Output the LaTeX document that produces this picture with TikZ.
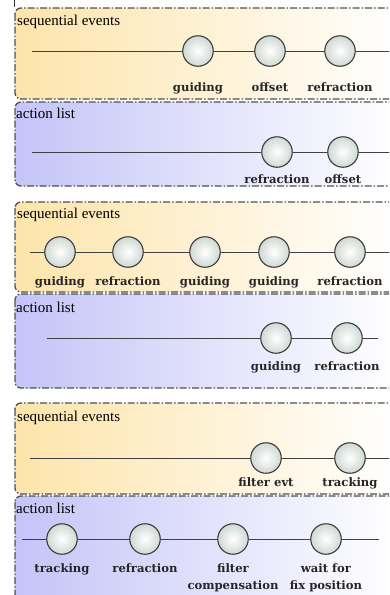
\documentclass[tikz,border=0pt]{standalone}
\usepackage{fontspec}
\setmainfont{Liberation Serif}
\newfontfamily\evfont{DejaVu Serif}
\definecolor{seqcol}{HTML}{FDE4AA}
\definecolor{actcol}{HTML}{C4C4F8}
\definecolor{edgecol}{HTML}{505050}
\definecolor{circedge}{HTML}{3C3C3C}
\definecolor{circfill}{HTML}{CFD9D3}
\tikzset{
  panel/.style={draw=edgecol, line width=1.3pt,
    dash pattern=on 7pt off 2pt on 1.5pt off 2pt, rounded corners=6pt},
  seqpanel/.style={panel, left color=seqcol, right color=white},
  actpanel/.style={panel, left color=actcol, right color=white},
  evt/.style={circle, draw=circedge, line width=1.1pt, minimum size=30.5pt,
    inner sep=0pt, inner color=white, outer color=circfill},
  evtlabel/.style={font=\evfont\bfseries\fontsize{11.6}{17.5}\selectfont,
    align=center, inner sep=0pt, anchor=base, text=black!85},
  paneltitle/.style={font=\fontsize{15}{18}\selectfont, anchor=base west,
    inner sep=0pt},
  track/.style={draw=black!75, line width=0.9pt},
}
\begin{document}
\begin{tikzpicture}[x=1pt,y=-1pt]
\clip (0,0) rectangle (389,595);
\fill[white] (0,0) rectangle (389,595);
\draw[black!80, line width=1pt] (14,0) -- (14,7);

% ---------- first pair ----------
\path[seqpanel] (15,8) rectangle (397,99);
\node[paneltitle] (t1) at (17,25) {sequential events};
\coordinate (s1a) at (32,51);
\coordinate (s1b) at (395,51);
\node[evt] (s1c1) at (198,51) {};
\node[evt] (s1c2) at (270,51) {};
\node[evt] (s1c3) at (340,51) {};
\draw[track] (s1a) -- (s1c1) -- (s1c2) -- (s1c3) -- (s1b);
\node[evtlabel] (s1l1) at (198,91.5) {guiding};
\node[evtlabel] (s1l2) at (270,91.5) {offset};
\node[evtlabel] (s1l3) at (340,91.5) {refraction};

\path[actpanel] (15,102) rectangle (397,186);
\node[paneltitle] (t2) at (16,118) {action list};
\coordinate (a1a) at (32,152);
\coordinate (a1b) at (395,152);
\node[evt] (a1c1) at (277,152) {};
\node[evt] (a1c2) at (343,152) {};
\draw[track] (a1a) -- (a1c1) -- (a1c2) -- (a1b);
\node[evtlabel] (a1l1) at (277,183.5) {refraction};
\node[evtlabel] (a1l2) at (343,183.5) {offset};

% ---------- second pair ----------
\path[seqpanel] (15,202) rectangle (397,292);
\node[paneltitle] (t3) at (17,218) {sequential events};
\coordinate (s2a) at (30,252);
\coordinate (s2b) at (395,252);
\node[evt] (s2c1) at (60,252) {};
\node[evt] (s2c2) at (128,252) {};
\node[evt] (s2c3) at (205,252) {};
\node[evt] (s2c4) at (274,252) {};
\node[evt] (s2c5) at (350,252) {};
\draw[track] (s2a) -- (s2c1) -- (s2c2) -- (s2c3) -- (s2c4) -- (s2c5) -- (s2b);
\node[evtlabel] (s2l1) at (60,285) {guiding};
\node[evtlabel] (s2l2) at (128,285) {refraction};
\node[evtlabel] (s2l3) at (205,285) {guiding};
\node[evtlabel] (s2l4) at (274,285) {guiding};
\node[evtlabel] (s2l5) at (350,285) {refraction};

\path[actpanel] (15,294) rectangle (397,388);
\node[paneltitle] (t4) at (16,312) {action list};
\coordinate (a2a) at (47,338);
\coordinate (a2b) at (378,338);
\node[evt] (a2c1) at (276,338) {};
\node[evt] (a2c2) at (347,338) {};
\draw[track] (a2a) -- (a2c1) -- (a2c2) -- (a2b);
\node[evtlabel] (a2l1) at (276,370) {guiding};
\node[evtlabel] (a2l2) at (347,370) {refraction};

% ---------- third pair ----------
\path[seqpanel] (15,403) rectangle (397,494);
\node[paneltitle] (t5) at (17,421) {sequential events};
\coordinate (s3a) at (30,458);
\coordinate (s3b) at (395,458);
\node[evt] (s3c1) at (266,458) {};
\node[evt] (s3c2) at (350,458) {};
\draw[track] (s3a) -- (s3c1) -- (s3c2) -- (s3b);
\node[evtlabel] (s3l1) at (266,486) {filter evt};
\node[evtlabel] (s3l2) at (350,486) {tracking};

\path[actpanel] (15,496) rectangle (397,600);
\node[paneltitle] (t6) at (16,513) {action list};
\coordinate (a3a) at (22,539);
\coordinate (a3b) at (379,539);
\node[evt] (a3c1) at (62,539) {};
\node[evt] (a3c2) at (145,539) {};
\node[evt] (a3c3) at (233,539) {};
\node[evt] (a3c4) at (326,539) {};
\draw[track] (a3a) -- (a3c1) -- (a3c2) -- (a3c3) -- (a3c4) -- (a3b);
\node[evtlabel] (a3l1) at (62,572) {tracking};
\node[evtlabel] (a3l2) at (145,572) {refraction};
% two-line labels: the base anchor sits on the last line
\node[evtlabel] (a3l3) at (233,589.5) {filter\\compensation};
\node[evtlabel] (a3l4) at (326,589.5) {wait for\\fix position};
\end{tikzpicture}
\end{document}
